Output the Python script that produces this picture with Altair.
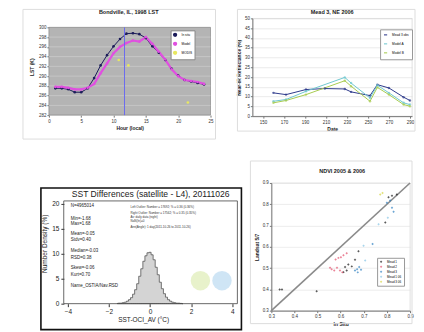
import altair as alt
import pandas as pd

FONT = "Liberation Sans"

# ---------------- Panel 1: Bondville LST ----------------
p1_title = "Bondville, IL, 1998 LST"
hours = list(range(1, 25))
lst_obs = [287.5, 287.5, 287.3, 286.7, 286.7, 287.5, 289.6, 292.2, 294.3, 296.1, 297.6, 298.7,
           298.8, 298.6, 297.8, 296.1, 294.8, 293.3, 291.5, 290.1, 289.2, 288.9, 288.6, 288.3]
lst_model = [287.8, 287.8, 287.6, 287.3, 287.3, 287.6, 288.4, 290.6, 292.6, 294.7, 296.0, 296.8,
             297.3, 297.1, 298.0, 296.6, 295.0, 293.4, 291.4, 290.0, 289.2, 289.0, 288.8, 288.4]
sat_hours = [10.8, 12.3, 21.5]
sat_vals = [293.3, 292.2, 284.6]
overpass_hour = [11.7]
p1_series = ["In situ", "Model", "MODIS"]
p1_colors = ["#1c1c5a", "#e050e0", "#e8e860"]
p1_yticks = [282, 284, 286, 288, 290, 292, 294, 296, 298, 300]
p1_xticks = [0, 5, 10, 15, 20, 25]

# ---------------- Panel 2: Mead NIR ----------------
p2_title = "Mead 3, NE 2006"
p2_names = ["Mead 3 obs", "Model A", "Model B"]
p2_dates_a = [160, 172, 191, 209, 228, 234, 252, 259, 270, 284, 290]
p2_vals_a = [11.9, 11.0, 13.6, 14.1, 13.9, 12.4, 10.5, 16.1, 14.4, 9.7, 8.0]
p2_dates_b = [160, 172, 191, 228, 234, 252, 259, 270, 284, 290]
p2_vals_b = [7.6, 8.5, 12.7, 19.8, 16.9, 9.3, 15.8, 11.9, 6.8, 5.9]
p2_vals_c = [6.8, 8.0, 11.0, 18.1, 15.3, 7.6, 14.7, 11.0, 5.9, 5.1]
p2_colors = ["#2e3a8c", "#6fc8d0", "#a8cc50"]
p2_xticks = [150, 170, 190, 210, 230, 250, 270, 290]
p2_yticks = [0, 5, 10, 15, 20, 25, 30, 35, 40, 45, 50]

# ---------------- Panel 3: SST differences histogram ----------------
p3_title = "SST Differences (satellite - L4),  20111026"
sst_bins = [-1.6, -1.5, -1.4, -1.3, -1.2, -1.1, -1.0, -0.9, -0.8, -0.7, -0.6, -0.5, -0.4, -0.3,
            -0.2, -0.1, 0.0, 0.1, 0.2, 0.3, 0.4, 0.5, 0.6, 0.7, 0.8, 0.9, 1.0, 1.1, 1.2, 1.3,
            1.4, 1.5, 1.6]
sst_density = [0.05, 0.1, 0.1, 0.2, 0.3, 0.5, 0.8, 1.2, 1.9, 2.8, 4.0, 5.5, 7.0, 8.5,
               9.6, 10.2, 10.3, 9.8, 8.8, 7.3, 5.8, 4.3, 3.0, 2.0, 1.3, 0.8, 0.5, 0.3, 0.2, 0.1,
               0.1, 0.05, 0.0]
stats_lines = ["N=4965014", "Min=-1.68", "Max=1.68", "Mean=-0.05", "Stdv=0.40", "Median=-0.03",
               "RSD=0.38", "Skew=-0.06", "Kurt=0.70", "Name_OSTIA/Nav.RSD"]
stats_y = [19.5, 17.0, 15.9, 14.0, 12.7, 10.5, 9.1, 7.1, 5.8, 3.6]
info_lines = ["Left Outlier:  Number = 17692; % = 0.36 (0.36%)",
              "Right Outlier: Number = 17562; % = 0.35 (0.35%)",
              "Av: daily data (night)",
              "NaN(In)=0",
              "Ann(Angle): 1 day(2011-10-26 to 2011-10-26)"]
info_y = [19.3, 18.1, 17.4, 16.5, 15.3]
logo_x = [2.45, 3.5]
logo_y = [4.6, 4.6]
logo_c = ["#d6e8a0", "#a8d0ec"]
p3_xticks = [-4, -2, 0, 2, 4]
p3_yticks = [0, 5, 10, 15, 20]
p3_plot_x = [-4.2, 4.25]
p3_plot_y = [0, 20.6]

# ---------------- Panel 4: NDVI scatter ----------------
p4_title = "NDVI 2005 & 2006"
ndvi_groups = ["Mead 1", "Mead 2", "Mead 3", "Mead 1 06", "Mead 3 06"]
ndvi_colors = ["#151515", "#e2506c", "#2c7fc0", "#86c4e6", "#d6d640"]
g1_x = [0.336, 0.346, 0.496, 0.619, 0.633, 0.648, 0.626, 0.662, 0.677, 0.612, 0.807, 0.822, 0.843, 0.793]
g1_y = [0.399, 0.399, 0.391, 0.505, 0.517, 0.508, 0.489, 0.539, 0.579, 0.481, 0.833, 0.840, 0.846, 0.714]
g2_x = [0.578, 0.590, 0.601, 0.612, 0.626, 0.572, 0.561, 0.584, 0.597, 0.607, 0.554]
g2_y = [0.540, 0.548, 0.551, 0.560, 0.570, 0.489, 0.495, 0.502, 0.489, 0.480, 0.502]
g3_x = [0.662, 0.671, 0.680, 0.688, 0.674, 0.738, 0.814, 0.822, 0.829, 0.800]
g3_y = [0.489, 0.495, 0.505, 0.492, 0.480, 0.613, 0.818, 0.784, 0.765, 0.807]
g4_x = [0.706, 0.764, 0.699, 0.804]
g4_y = [0.536, 0.706, 0.605, 0.737]
g5_x = [0.771, 0.781]
g5_y = [0.846, 0.853]
one_to_one = [0.3, 0.9]
p4_ticks = [0.3, 0.4, 0.5, 0.6, 0.7, 0.8, 0.9]


def frame(x0, x1, y0, y1, stroke, sw):
    return alt.Chart(pd.DataFrame({"k": [0]})).mark_rect(
        filled=False, stroke=stroke, strokeWidth=sw, clip=False
    ).encode(x=alt.value(x0), x2=alt.value(x1), y=alt.value(y0), y2=alt.value(y1))


def title_text(t, x, y, size, weight="bold", color="#222"):
    return alt.Chart(pd.DataFrame({"t": [t]})).mark_text(
        fontSize=size, fontWeight=weight, font=FONT, color=color, baseline="middle", align="center"
    ).encode(x=alt.value(x), y=alt.value(y), text="t:N")


def small_axis(values, title, fmt=None, grid=False, gridColor="#d0d0d0", domain=True, titlePadding=3):
    kw = dict(values=values, title=title, labelFontSize=4.5, titleFontSize=5, titleFontWeight="bold",
              labelColor="#333", titleColor="#222", domainColor="#777", tickColor="#777",
              tickSize=2, labelPadding=1, titlePadding=titlePadding, grid=grid, gridColor=gridColor,
              gridWidth=0.6, labelFont=FONT, titleFont=FONT, domain=domain, labelOverlap=False,
              labelBound=False, labelFlush=False)
    if fmt:
        kw["format"] = fmt
    return alt.Axis(**kw)


# ---- Panel 1 ---- (view: page x 48..210, y 17..114)
W1, H1 = 162, 97
df1 = pd.DataFrame({
    "hour": hours + hours + sat_hours,
    "LST": lst_obs + lst_model + sat_vals,
    "series": [p1_series[0]] * 24 + [p1_series[1]] * 24 + [p1_series[2]] * len(sat_hours),
})
x1s = alt.Scale(domain=[p1_xticks[0], p1_xticks[-1]], nice=False)
y1s = alt.Scale(domain=[p1_yticks[0], p1_yticks[-1] + 9 * 18 / 88], nice=False)
ax1x = small_axis(p1_xticks, "Hour (local)", domain=False)
ax1y = small_axis(p1_yticks, "LST (K)", domain=False, titlePadding=4)
x1 = alt.X("hour:Q", scale=x1s, axis=ax1x)
y1 = alt.Y("LST:Q", scale=y1s, axis=ax1y)
c1 = alt.Color("series:N", scale=alt.Scale(domain=p1_series, range=p1_colors),
               legend=alt.Legend(title=None, orient="none", legendX=122, legendY=12, labelFontSize=3.2,
                                 symbolSize=8, padding=2, rowPadding=0, fillColor="white",
                                 strokeColor="#888", labelFont=FONT))
bg1 = alt.Chart(pd.DataFrame({"x0": [p1_xticks[0]], "x1": [p1_xticks[-1]],
                              "y0": [p1_yticks[0]], "y1": [p1_yticks[-1]]})).mark_rect(
    fill="#b4b4b4", stroke="#7a7a7a", strokeWidth=0.6).encode(
    x=alt.X("x0:Q", scale=x1s, axis=ax1x), x2="x1:Q", y=alt.Y("y0:Q", scale=y1s, axis=ax1y), y2="y1:Q")
grid1 = alt.Chart(pd.DataFrame({"y": p1_yticks[1:-1]})).mark_rule(color="#d2d2d2", strokeWidth=0.6).encode(
    y=alt.Y("y:Q", scale=y1s, axis=ax1y))
base1 = alt.Chart(df1)
lines1 = base1.transform_filter(alt.datum.series != p1_series[2]).mark_line().encode(
    x=x1, y=y1, color=c1,
    strokeWidth=alt.StrokeWidth("series:N", scale=alt.Scale(domain=p1_series[:2], range=[1, 2.2]), legend=None))
pts1 = base1.mark_point(filled=True, size=7, opacity=1).encode(x=x1, y=y1, color=c1)
vline = alt.Chart(pd.DataFrame({"hour": overpass_hour})).mark_rule(color="#6a6aee", strokeWidth=1).encode(
    x=alt.X("hour:Q", scale=x1s, axis=ax1x), y=alt.value(9), y2=alt.value(H1))
p1 = alt.layer(frame(-26, W1 + 5, -9, H1 + 24, "#dddddd", 1), title_text(p1_title, 80, -6, 5.5),
               bg1, grid1, lines1, pts1, vline).properties(
    width=W1, height=H1, view=alt.ViewBackground(fill="white", stroke=None, strokeWidth=0))

# ---- Panel 2 ---- (view: page x 252..412, y 17..115)
W2, H2 = 160, 98
df2 = pd.DataFrame({
    "date": p2_dates_a + p2_dates_b + p2_dates_b,
    "nir": p2_vals_a + p2_vals_b + p2_vals_c,
    "series": [p2_names[0]] * len(p2_dates_a) + [p2_names[1]] * len(p2_dates_b) + [p2_names[2]] * len(p2_dates_b),
})
x2 = alt.X("date:Q", scale=alt.Scale(domain=[140, 292], nice=False),
           axis=small_axis(p2_xticks, "Date"))
y2 = alt.Y("nir:Q", scale=alt.Scale(domain=[0, 50], nice=False),
           axis=small_axis(p2_yticks, "Near-IR Reflectance (%)", grid=True, gridColor="#dcdcdc"))
c2 = alt.Color("series:N", scale=alt.Scale(domain=p2_names, range=p2_colors),
               legend=alt.Legend(title=None, orient="none", legendX=128, legendY=11, labelFontSize=3.2,
                                 symbolSize=10, symbolType="stroke", padding=3, rowPadding=2,
                                 fillColor="white", strokeColor="#999", labelFont=FONT))
base2 = alt.Chart(df2)
p2 = alt.layer(
    frame(-15, W2 + 3, -9, H2 + 15, "#dddddd", 1),
    title_text(p2_title, 80, -6, 5.5),
    base2.mark_line(strokeWidth=1).encode(x=x2, y=y2, color=c2),
    base2.mark_point(filled=True, size=6).encode(x=x2, y=y2, color=c2),
).properties(width=W2, height=H2, view=alt.ViewBackground(fill="white", stroke="#cccccc", strokeWidth=0.6))

# ---- Panel 3 ---- (view: page x 48..237, y 182..303; plot frame 63..237, 200..303)
W3, H3 = 189, 121
df3 = pd.DataFrame({"d": sst_bins, "dens": sst_density})
x3s = alt.Scale(domain=[-4 - 19 / 20.6, -4 - 19 / 20.6 + W3 / 20.6], nice=False)
y3s = alt.Scale(domain=[0, H3 / 5], nice=False)
ax3 = dict(labelFontSize=6.5, titleFontSize=6.5, labelFont=FONT, titleFont=FONT, labelColor="#222",
           titleColor="#222", domain=False, tickColor="#333", tickSize=3, grid=False,
           titleFontWeight="normal", labelOverlap=False, labelFlush=False)
ax3x = alt.Axis(values=p3_xticks, title="SST-OCI_AV (°C)", labelPadding=2, titlePadding=1, **ax3)
ax3y = alt.Axis(values=p3_yticks, title="Number Density (%)", labelPadding=2, titlePadding=4, offset=-15, **ax3)
hist = alt.Chart(df3).mark_area(interpolate="step", fill="#d4d4d4", stroke="#555", strokeWidth=0.8).encode(
    x=alt.X("d:Q", scale=x3s, axis=ax3x), y=alt.Y("dens:Q", scale=y3s, axis=ax3y))
pf3 = alt.Chart(pd.DataFrame({"x0": [p3_plot_x[0]], "x1": [p3_plot_x[1]],
                              "y0": [p3_plot_y[0]], "y1": [p3_plot_y[1]]})).mark_rect(
    filled=False, stroke="#444", strokeWidth=0.8).encode(
    x=alt.X("x0:Q", scale=x3s, axis=ax3x), x2="x1:Q", y=alt.Y("y0:Q", scale=y3s, axis=ax3y), y2="y1:Q")
stats_df = pd.DataFrame({"t": stats_lines, "y": stats_y, "x": [-3.86] * len(stats_lines)})
stats = alt.Chart(stats_df).mark_text(align="left", baseline="middle", fontSize=4.5, font=FONT, color="#222").encode(
    x=alt.X("x:Q", scale=x3s, axis=ax3x), y=alt.Y("y:Q", scale=y3s, axis=ax3y), text="t:N")
info_df = pd.DataFrame({"t": info_lines, "y": info_y, "x": [-0.95] * len(info_lines)})
info = alt.Chart(info_df).mark_text(align="left", baseline="middle", fontSize=3, font=FONT, color="#333").encode(
    x=alt.X("x:Q", scale=x3s, axis=ax3x), y=alt.Y("y:Q", scale=y3s, axis=ax3y), text="t:N")
logo_df = pd.DataFrame({"x": logo_x, "y": logo_y, "c": logo_c})
logo = alt.Chart(logo_df).mark_circle(size=380, opacity=0.55).encode(
    x=alt.X("x:Q", scale=x3s, axis=ax3x), y=alt.Y("y:Q", scale=y3s, axis=ax3y), color=alt.Color("c:N", scale=None))
p3 = alt.layer(frame(-8, 193, 5, 147, "#111", 1.6), title_text(p3_title, 102, 11.5, 8.6, weight="normal"),
               logo, hist, pf3, stats, info).properties(
    width=W3, height=H3, view=alt.ViewBackground(fill="white", stroke=None, strokeWidth=0))

# ---- Panel 4 ---- (view: page x 271..410, y 182..310)
W4, H4 = 139, 128
df4 = pd.DataFrame({
    "insitu": g1_x + g2_x + g3_x + g4_x + g5_x,
    "landsat": g1_y + g2_y + g3_y + g4_y + g5_y,
    "site": [ndvi_groups[0]] * len(g1_x) + [ndvi_groups[1]] * len(g2_x) + [ndvi_groups[2]] * len(g3_x)
            + [ndvi_groups[3]] * len(g4_x) + [ndvi_groups[4]] * len(g5_x),
})
x4s = alt.Scale(domain=[p4_ticks[0], p4_ticks[-1]], nice=False)
y4s = alt.Scale(domain=[p4_ticks[0], p4_ticks[-1]], nice=False)
ax4x = small_axis(p4_ticks, "In Situ", fmt=".1f")
ax4y = small_axis(p4_ticks, "Landsat 5/7", fmt=".1f", grid=True, gridColor="#e0e0e0")
line_df = pd.DataFrame({"insitu": one_to_one, "landsat": one_to_one})
oneline = alt.Chart(line_df).mark_line(color="#8a8a8a", strokeWidth=1.6).encode(
    x=alt.X("insitu:Q", scale=x4s, axis=ax4x), y=alt.Y("landsat:Q", scale=y4s, axis=ax4y))
pts4 = alt.Chart(df4).mark_point(filled=True, size=6, shape="diamond").encode(
    x=alt.X("insitu:Q", scale=x4s, axis=ax4x), y=alt.Y("landsat:Q", scale=y4s, axis=ax4y),
    color=alt.Color("site:N", scale=alt.Scale(domain=ndvi_groups, range=ndvi_colors),
                    legend=alt.Legend(title=None, orient="none", legendX=106, legendY=75, labelFontSize=3,
                                      symbolSize=6, padding=2, rowPadding=1, fillColor="white",
                                      strokeColor="#999", labelFont=FONT)),
)
p4 = alt.layer(frame(-21, W4 + 2, -22, H4 + 13, "#dddddd", 1), title_text(p4_title, 71, -12, 5.5),
               oneline, pts4).properties(
    width=W4, height=H4, view=alt.ViewBackground(fill="white", stroke="#cccccc", strokeWidth=0.6))

row1 = alt.hconcat(p1, p2, spacing=42, bounds="flush").resolve_scale(
    color="independent", x="independent", y="independent")
row2 = alt.hconcat(p3, p4, spacing=34, bounds="flush").resolve_scale(
    color="independent", x="independent", y="independent")
chart = alt.vconcat(row1, row2, spacing=165, bounds="flush").resolve_scale(
    color="independent", x="independent", y="independent").properties(
    padding={"left": 14, "top": 0, "right": 0, "bottom": 0}, background="white"
).configure_view(strokeWidth=0).configure_legend(titleFont=FONT)

chart.save("out.html", embed_options={"renderer": "svg", "actions": False})
